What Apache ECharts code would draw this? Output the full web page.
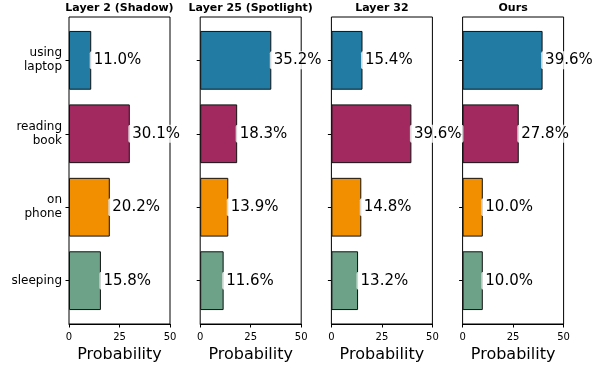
<!DOCTYPE html>
<html>
<head>
<meta charset="utf-8">
<script src="https://cdn.jsdelivr.net/npm/echarts@6/dist/echarts.min.js"></script>
<style>
  html, body { margin: 0; padding: 0; background: #fff; }
  #chart { width: 598px; height: 370px; }
</style>
</head>
<body>
<div id="chart"></div>
<script>
// Activity probabilities per model layer
const panelTitles = ['Layer 2 (Shadow)', 'Layer 25 (Spotlight)', 'Layer 32', 'Ours'];
const categories = ['using\nlaptop', 'reading\nbook', 'on\nphone', 'sleeping'];
const layer2Values = [11.0, 30.1, 20.2, 15.8];
const layer25Values = [35.2, 18.3, 13.9, 11.6];
const layer32Values = [15.4, 39.6, 14.8, 13.2];
const oursValues = [39.6, 27.8, 10.0, 10.0];
const xTicks = [0, 25, 50];
const barColors = ['#227BA2', '#A2295F', '#F18F01', '#6DA289'];

const panelValues = [layer2Values, layer25Values, layer32Values, oursValues];
const FONT = 'DejaVu Sans';

// panel geometry
const panelLeft = 69, panelStep = 131.2, panelWidth = 101;
const frameTop = 17, frameHeight = 307;
// bars sit in bands slightly inset from the frame (axis margins)
const bandInset = 6.6;

const grids = [], xAxes = [], yAxes = [], series = [], graphics = [];

panelValues.forEach((vals, i) => {
  const left = panelLeft + i * panelStep;
  // frame grid (index 2i) and bar grid (index 2i+1)
  grids.push({
    left: left, top: frameTop, width: panelWidth, height: frameHeight,
    show: true, borderColor: '#000', borderWidth: 1, backgroundColor: 'transparent'
  });
  grids.push({
    left: left, top: frameTop + bandInset, width: panelWidth,
    height: frameHeight - 2 * bandInset, show: false
  });

  xAxes.push({
    gridIndex: 2 * i, type: 'value', min: xTicks[0], max: xTicks[xTicks.length - 1],
    interval: xTicks[1] - xTicks[0],
    axisLine: { show: true, lineStyle: { color: '#000', width: 1 } },
    axisTick: { show: true, length: 3.5, lineStyle: { color: '#000' } },
    axisLabel: { fontFamily: FONT, fontSize: 10, color: '#000', margin: 8 },
    splitLine: { show: false },
    name: 'Probability', nameLocation: 'middle', nameGap: 21,
    nameTextStyle: { fontFamily: FONT, fontSize: 16, color: '#000' }
  });
  xAxes.push({
    gridIndex: 2 * i + 1, type: 'value', min: xTicks[0], max: xTicks[xTicks.length - 1],
    show: false
  });

  yAxes.push({
    gridIndex: 2 * i, type: 'value', show: false, min: 0, max: 1
  });
  yAxes.push({
    gridIndex: 2 * i + 1, type: 'category', data: categories, inverse: true,
    axisLine: { show: false },
    axisTick: { show: true, alignWithLabel: true, length: 3.5, lineStyle: { color: '#000' } },
    axisLabel: {
      show: i === 0, fontFamily: FONT, fontSize: 12, color: '#000',
      lineHeight: 14, align: 'right', margin: 7, padding: [3, 0, 0, 0]
    },
    splitLine: { show: false }
  });

  series.push({
    type: 'bar',
    xAxisIndex: 2 * i + 1, yAxisIndex: 2 * i + 1,
    barCategoryGap: '20%',
    data: vals.map((v, k) => ({ value: v, itemStyle: { color: barColors[k] } })),
    itemStyle: { borderColor: '#111', borderWidth: 1 },
    label: {
      show: true, position: 'right', distance: -1.5,
      formatter: p => p.value.toFixed(1) + '%',
      fontFamily: FONT, fontSize: 15, color: '#000',
      backgroundColor: 'rgba(255,255,255,0.8)', borderRadius: 2,
      padding: [1, 2, 0, 4], lineHeight: 17
    },
    emphasis: { disabled: true },
    silent: true
  });

  graphics.push({
    type: 'text', x: left + panelWidth / 2, y: 8.5,
    style: {
      text: panelTitles[i], fontFamily: FONT, fontSize: 11, fontWeight: 'bold',
      fill: '#000', align: 'center', verticalAlign: 'middle'
    }
  });
});

const chart = echarts.init(document.getElementById('chart'), null, { renderer: 'canvas' });
chart.setOption({
  animation: false,
  backgroundColor: '#fff',
  grid: grids,
  xAxis: xAxes,
  yAxis: yAxes,
  series: series,
  graphic: graphics
});
</script>
</body>
</html>
